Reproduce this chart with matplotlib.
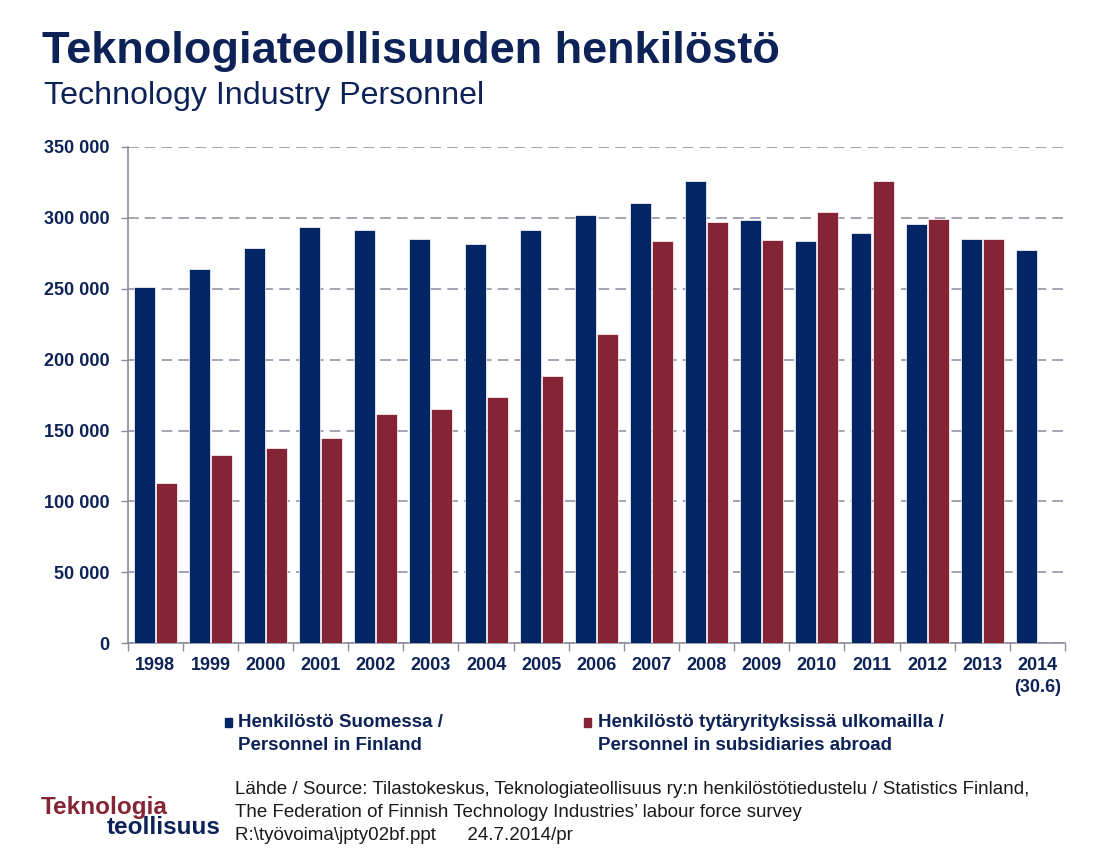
import numpy as np
import matplotlib
matplotlib.use("Agg")
import matplotlib.pyplot as plt
from matplotlib.ticker import FixedLocator

plt.rcParams['font.family'] = ['Liberation Sans', 'DejaVu Sans']

# data
vuodet = ['1998', '1999', '2000', '2001', '2002', '2003', '2004', '2005', '2006',
          '2007', '2008', '2009', '2010', '2011', '2012', '2013', '2014\n(30.6)']
suomessa = [251000, 264000, 279000, 293500, 291000, 285000, 281500, 291500, 302000,
            310500, 326000, 298500, 283700, 289300, 295700, 285100, 277400]
ulkomailla = [113000, 132800, 137700, 144800, 161700, 165200, 173500, 188500, 218300,
              283700, 297100, 284400, 304200, 326000, 299200, 285100]
y_ticks = [0, 50000, 100000, 150000, 200000, 250000, 300000, 350000]

navy = '#012663'
red = '#842435'
grid_grey = '#8A8C9C'
text_navy = '#0D2257'

fig = plt.figure(figsize=(10.95, 8.56), dpi=100)
ax = fig.add_axes([0.1166, 0.2485, 0.8560, 0.5800])

x = np.arange(len(vuodet))
ax.bar(x - 0.2, suomessa, width=0.38, color=navy, edgecolor='white', linewidth=0.5, zorder=3)
ax.bar(x[:len(ulkomailla)] + 0.2, ulkomailla, width=0.38, color=red, edgecolor='white',
       linewidth=0.5, zorder=3)

ax.set_xlim(-0.5, len(vuodet) - 0.5)
ax.set_ylim(0, 350000)

# y axis
ax.set_yticks(y_ticks)
ax.set_yticklabels([f"{v:,}".replace(",", " ") for v in y_ticks])
ax.tick_params(axis='y', direction='out', length=5, color=grid_grey, width=1,
               labelsize=13, labelcolor=text_navy, pad=8)
for lab in ax.get_yticklabels():
    lab.set_fontweight('bold')

# x axis: labels at centers, tick marks at category boundaries
ax.set_xticks(x)
ax.set_xticklabels(vuodet, fontsize=13, fontweight='bold', color=text_navy, linespacing=1.35)
ax.tick_params(axis='x', which='major', length=0, pad=10)
ax.xaxis.set_minor_locator(FixedLocator(np.arange(-0.5, len(vuodet), 1.0)))
ax.tick_params(axis='x', which='minor', direction='out', length=6, color=grid_grey, width=1)

for s in ['top', 'right']:
    ax.spines[s].set_visible(False)
for s in ['left', 'bottom']:
    ax.spines[s].set_color(grid_grey)
    ax.spines[s].set_linewidth(1.2)

ax.yaxis.grid(True, color=grid_grey, linestyle=(0, (7, 4)), linewidth=1.1, zorder=0)
ax.set_axisbelow(True)

# titles
fig.text(0.038, 0.926, 'Teknologiateollisuuden henkilöstö', fontsize=32.5, fontweight='bold',
         color=text_navy, ha='left', va='baseline')
fig.text(0.040, 0.878, 'Technology Industry Personnel', fontsize=23.1,
         color=text_navy, ha='left', va='baseline')

# legend
fig.patches.append(plt.Rectangle((225 / 1095, 1 - 727 / 856), 7 / 1095, 9 / 856,
                                 transform=fig.transFigure, color=navy))
fig.text(238 / 1095, 1 - 714 / 856, 'Henkilöstö Suomessa /\nPersonnel in Finland',
         fontsize=13.5, fontweight='bold', color=text_navy, ha='left', va='top',
         linespacing=1.5)
fig.patches.append(plt.Rectangle((584 / 1095, 1 - 727 / 856), 7 / 1095, 9 / 856,
                                 transform=fig.transFigure, color=red))
fig.text(598 / 1095, 1 - 714 / 856, 'Henkilöstö tytäryrityksissä ulkomailla /\nPersonnel in subsidiaries abroad',
         fontsize=13.5, fontweight='bold', color=text_navy, ha='left', va='top',
         linespacing=1.5)

# source
fig.text(235 / 1095, 1 - 781 / 856,
         'Lähde / Source: Tilastokeskus, Teknologiateollisuus ry:n henkilöstötiedustelu / Statistics Finland,\n'
         'The Federation of Finnish Technology Industries\u2019 labour force survey\n'
         'R:\\työvoima\\jpty02bf.ppt      24.7.2014/pr',
         fontsize=13.5, color='#1a1a1a', ha='left', va='top', linespacing=1.45)

# logo
fig.text(41 / 1095, 1 - 814 / 856, 'Teknologia', fontsize=17.5, fontweight='bold',
         color=red, ha='left', va='baseline')
fig.text(221 / 1095, 1 - 834 / 856, 'teollisuus', fontsize=17.5, fontweight='bold',
         color=text_navy, ha='right', va='baseline')

fig.savefig('out.png', dpi=100)
